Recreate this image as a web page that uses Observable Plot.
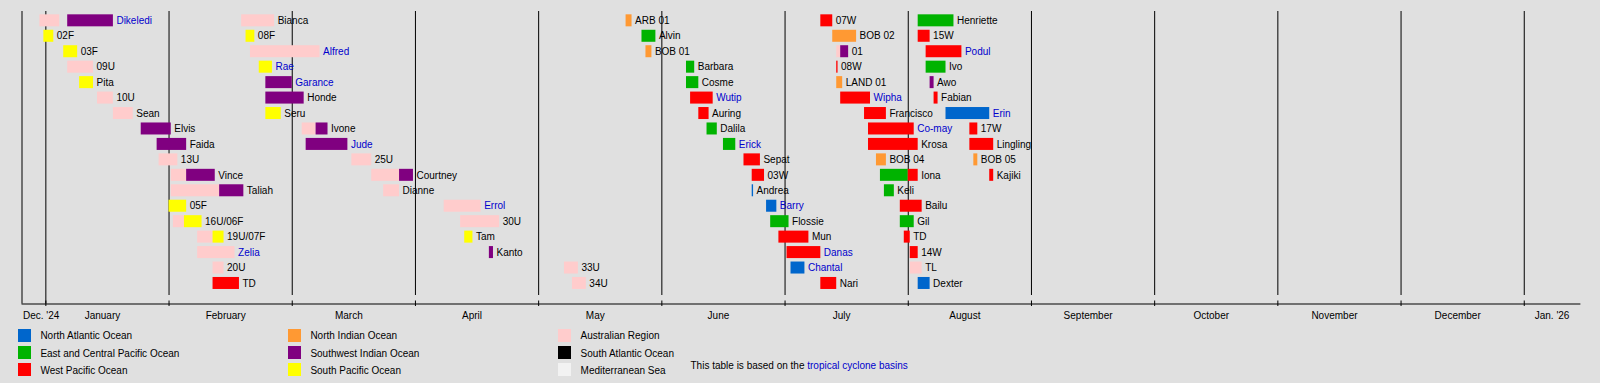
<!DOCTYPE html>
<html><head><meta charset="utf-8">
<script src="https://cdn.jsdelivr.net/npm/d3@7"></script>
<script src="https://cdn.jsdelivr.net/npm/@observablehq/plot@0.6"></script>
<style>
html,body{margin:0;padding:0;background:#e0e0e0;}
body{position:relative;width:1600px;height:383px;overflow:hidden;font-family:"Liberation Sans",Arial,sans-serif;font-size:10px;color:#000;}
#chart svg{display:block;}
.sw{position:absolute;width:13px;height:13px;}
.lt{position:absolute;height:13px;line-height:13px;white-space:nowrap;}
a{color:#0000cc;text-decoration:none;}
</style></head>
<body><div id="chart"></div><div id="legend"></div>
<script>
// ---- data ----
const periodStart = "2024-12-26";
const periodEnd = "2026-01-15";
const basinKeys = ["NA","EP","WP","NI","SWI","SP","AU","SA","MED"];
const basinNames = ["North Atlantic Ocean","East and Central Pacific Ocean","West Pacific Ocean","North Indian Ocean","Southwest Indian Ocean","South Pacific Ocean","Australian Region","South Atlantic Ocean","Mediterranean Sea"];
const basinColors = ["#0066cc","#00b300","#ff0000","#ff9933","#800080","#ffff00","#ffcccc","#000000","#f2f2f2"];
const monthNames = ["January","February","March","April","May","June","July","August","September","October","November","December"];
const firstLabel = "Dec. '24";
const lastLabel = "Jan. '26";
const linkedStorms = ["Dikeledi","Alfred","Rae","Garance","Jude","Zelia","Errol","Wutip","Erick","Barry","Danas","Chantal","Wipha","Co-may","Podul","Erin"];
const noteText = "This table is based on the ";
const noteLink = "tropical cyclone basins";

// [storm, row, basin, from, till]
const segments = [
 ["Dikeledi",0,"AU","2024-12-30T12","2025-01-04T12"],
 ["Dikeledi",0,"SWI","2025-01-06T12","2025-01-18"],
 ["Bianca",0,"AU","2025-02-17T12","2025-02-25"],
 ["ARB 01",0,"NI","2025-05-23","2025-05-24T12"],
 ["07W",0,"WP","2025-07-10","2025-07-13"],
 ["Henriette",0,"EP","2025-08-03T12","2025-08-12T12"],

 ["02F",1,"SP","2024-12-31T12","2025-01-03"],
 ["08F",1,"SP","2025-02-18T12","2025-02-20T12"],
 ["Alvin",1,"EP","2025-05-27","2025-05-30T12"],
 ["BOB 02",1,"NI","2025-07-13","2025-07-19"],
 ["15W",1,"WP","2025-08-03T12","2025-08-06T12"],

 ["03F",2,"SP","2025-01-05T12","2025-01-09"],
 ["Alfred",2,"AU","2025-02-19T12","2025-03-08"],
 ["BOB 01",2,"NI","2025-05-28","2025-05-29T12"],
 ["01",2,"AU","2025-07-14","2025-07-15"],
 ["01",2,"SWI","2025-07-15","2025-07-17"],
 ["Podul",2,"WP","2025-08-05T12","2025-08-14T12"],

 ["09U",3,"AU","2025-01-06T12","2025-01-13"],
 ["Rae",3,"SP","2025-02-21T12","2025-02-24T12"],
 ["Barbara",3,"EP","2025-06-07","2025-06-09"],
 ["08W",3,"WP","2025-07-14","2025-07-14T08"],
 ["Ivo",3,"EP","2025-08-05T12","2025-08-10T12"],

 ["Pita",4,"SP","2025-01-09T12","2025-01-13"],
 ["Garance",4,"SWI","2025-02-23","2025-03-01"],
 ["Cosme",4,"EP","2025-06-07","2025-06-10"],
 ["LAND 01",4,"NI","2025-07-14","2025-07-15T12"],
 ["Awo",4,"SWI","2025-08-06T12","2025-08-07T12"],

 ["10U",5,"AU","2025-01-14","2025-01-18"],
 ["Honde",5,"SWI","2025-02-23","2025-03-04"],
 ["Wutip",5,"WP","2025-06-08","2025-06-13T12"],
 ["Wipha",5,"WP","2025-07-15","2025-07-22T12"],
 ["Fabian",5,"WP","2025-08-07T12","2025-08-08T12"],

 ["Sean",6,"AU","2025-01-18","2025-01-23"],
 ["Seru",6,"SP","2025-02-23","2025-02-26T12"],
 ["Auring",6,"WP","2025-06-10","2025-06-12T12"],
 ["Francisco",6,"WP","2025-07-21","2025-07-26T12"],
 ["Erin",6,"NA","2025-08-10T12","2025-08-21T12"],

 ["Elvis",7,"SWI","2025-01-25","2025-02-01T12"],
 ["Ivone",7,"AU","2025-03-03T12","2025-03-07"],
 ["Ivone",7,"SWI","2025-03-07","2025-03-10"],
 ["Dalila",7,"EP","2025-06-12","2025-06-14T12"],
 ["Co-may",7,"WP","2025-07-22","2025-08-02T12"],
 ["17W",7,"WP","2025-08-16T12","2025-08-18T12"],

 ["Faida",8,"SWI","2025-01-29","2025-02-05"],
 ["Jude",8,"SWI","2025-03-04T12","2025-03-15"],
 ["Erick",8,"EP","2025-06-16","2025-06-19"],
 ["Krosa",8,"WP","2025-07-22","2025-08-03T12"],
 ["Lingling",8,"WP","2025-08-16T12","2025-08-22T12"],

 ["13U",9,"AU","2025-01-29T12","2025-02-03"],
 ["25U",9,"AU","2025-03-16","2025-03-21"],
 ["Sepat",9,"WP","2025-06-21","2025-06-25"],
 ["BOB 04",9,"NI","2025-07-24","2025-07-26T12"],
 ["BOB 05",9,"NI","2025-08-17T12","2025-08-18T12"],

 ["Vince",10,"AU","2025-02-01T12","2025-02-05"],
 ["Vince",10,"SWI","2025-02-05","2025-02-11T12"],
 ["Courtney",10,"AU","2025-03-21","2025-03-28"],
 ["Courtney",10,"SWI","2025-03-28","2025-03-31T12"],
 ["03W",10,"WP","2025-06-23","2025-06-26"],
 ["Iona",10,"EP","2025-07-25","2025-08-01"],
 ["Iona",10,"WP","2025-08-01","2025-08-03T12"],
 ["Kajiki",10,"WP","2025-08-21T12","2025-08-22T12"],

 ["Taliah",11,"AU","2025-02-01T12","2025-02-12T12"],
 ["Taliah",11,"SWI","2025-02-12T12","2025-02-18"],
 ["Dianne",11,"AU","2025-03-24","2025-03-28"],
 ["Andrea",11,"NA","2025-06-23","2025-06-23T08"],
 ["Keli",11,"EP","2025-07-26","2025-07-28T12"],

 ["05F",12,"SP","2025-02-01","2025-02-05"],
 ["Errol",12,"AU","2025-04-08","2025-04-17"],
 ["Barry",12,"NA","2025-06-26T12","2025-06-29"],
 ["Bailu",12,"WP","2025-07-30","2025-08-04T12"],

 ["16U/06F",13,"AU","2025-02-02","2025-02-04T12"],
 ["16U/06F",13,"SP","2025-02-04T12","2025-02-08T12"],
 ["30U",13,"AU","2025-04-12","2025-04-21T12"],
 ["Flossie",13,"EP","2025-06-27T12","2025-07-02"],
 ["Gil",13,"EP","2025-07-30","2025-08-02T12"],

 ["19U/07F",14,"AU","2025-02-07T12","2025-02-11"],
 ["19U/07F",14,"SP","2025-02-11","2025-02-13T12"],
 ["Tam",14,"SP","2025-04-13","2025-04-15"],
 ["Mun",14,"WP","2025-06-29T12","2025-07-07"],
 ["TD",14,"WP","2025-07-31","2025-08-01T12"],

 ["Zelia",15,"AU","2025-02-07T12","2025-02-16"],
 ["Kanto",15,"SWI","2025-04-19","2025-04-20"],
 ["Danas",15,"WP","2025-07-01T12","2025-07-10"],
 ["14W",15,"WP","2025-08-01T12","2025-08-03T12"],

 ["20U",16,"AU","2025-02-11","2025-02-13T12"],
 ["33U",16,"AU","2025-05-07T12","2025-05-11"],
 ["Chantal",16,"NA","2025-07-02T12","2025-07-06"],
 ["TL",16,"AU","2025-08-01T12","2025-08-04T12"],

 ["TD",17,"WP","2025-02-11","2025-02-17"],
 ["34U",17,"AU","2025-05-09T12","2025-05-13"],
 ["Nari",17,"WP","2025-07-10","2025-07-14"],
 ["Dexter",17,"NA","2025-08-03T12","2025-08-06T12"]
];

// ---- helpers: each calendar month gets an equal width ----
function pos(s){
  const [date,time] = s.split("T");
  const [Y,M,D] = date.split("-").map(Number);
  const h = time ? +time.split(":")[0] : 0;
  const dim = new Date(Date.UTC(Y, M, 0)).getUTCDate();
  return (Y-2025)*12 + (M-1) + (D-1 + h/24)/dim;
}
const x0 = pos(periodStart), x1 = pos(periodEnd);
const nRows = d3.max(segments, d => d[1]) + 1;

const segs = segments.map(([name,row,basin,from,till]) => ({name,row,basin,x1:pos(from),x2:pos(till)}));
const labels = d3.groups(segs, d => d.name + "|" + d.row).map(([k,v]) => ({
  name: v[0].name, row: v[0].row, x: d3.max(v, d => d.x2), link: linkedStorms.includes(v[0].name)
}));
const boundaries = d3.range(0, 13);
const monthMids = monthNames.map((m,i) => ({x: i + 0.5, text: m}));

const labelDy = 15;
const chart = Plot.plot({
  width: 1600, height: 322,
  marginLeft: 21.5, marginRight: 20.6, marginTop: 11, marginBottom: 18.5,
  style: {background: "transparent", fontFamily: "'Liberation Sans', Arial, sans-serif", fontSize: "10px", color: "black"},
  x: {domain: [x0, x1], axis: null},
  y: {type: "band", domain: d3.range(nRows), axis: null, round: false, insetTop: 1.6, insetBottom: 12.8, paddingInner: 0.223, paddingOuter: 0.1115},
  color: {domain: basinKeys, range: basinColors},
  marks: [
    Plot.ruleX(boundaries.slice(1), {x: d => d, stroke: "black", insetBottom: 8.5}),
    Plot.ruleX([x0, 0], {x: d => d, stroke: "black"}),
    Plot.ruleX(boundaries, {x: d => d, stroke: "black", insetTop: 289.5, insetBottom: -2.5}),
    Plot.frame({anchor: "bottom", stroke: "black"}),
    Plot.barX(segs, {x1: "x1", x2: "x2", y: "row", fill: "basin"}),
    Plot.text(labels.filter(d => !d.link), {x: "x", y: "row", text: "name", textAnchor: "start", dx: 3, fill: "black"}),
    Plot.text(labels.filter(d => d.link), {x: "x", y: "row", text: "name", textAnchor: "start", dx: 3, fill: "#0000cc"}),
    Plot.text(monthMids, {x: "x", text: "text", frameAnchor: "bottom", dy: labelDy, dx: -5, fill: "black"}),
    Plot.text([firstLabel], {x: x0, text: d => d, frameAnchor: "bottom", dy: labelDy, dx: 1, textAnchor: "start", fill: "black"}),
    Plot.text([lastLabel], {x: (12 + x1) / 2, text: d => d, frameAnchor: "bottom", dy: labelDy, fill: "black"})
  ]
});
document.getElementById("chart").appendChild(chart);

// ---- legend (HTML below the plot area) ----
const legend = document.getElementById("legend");
const colX = [18, 288, 558.2], textOff = 22.4, rowTop = [328.6, 346, 363.3];
basinKeys.forEach((k,i) => {
  const c = Math.floor(i/3), r = i%3;
  const sw = document.createElement("div");
  sw.className = "sw"; sw.style.left = colX[c] + "px"; sw.style.top = rowTop[r] + "px"; sw.style.background = basinColors[i];
  const t = document.createElement("div");
  t.className = "lt"; t.style.left = (colX[c] + textOff) + "px"; t.style.top = (rowTop[r] + 0.5) + "px"; t.textContent = basinNames[i];
  legend.appendChild(sw); legend.appendChild(t);
});
const note = document.createElement("div");
note.className = "lt"; note.style.left = "690.5px"; note.style.top = "358.5px";
note.appendChild(document.createTextNode(noteText));
const a = document.createElement("a"); a.href = "#"; a.textContent = noteLink; note.appendChild(a);
legend.appendChild(note);
</script>
</body></html>
